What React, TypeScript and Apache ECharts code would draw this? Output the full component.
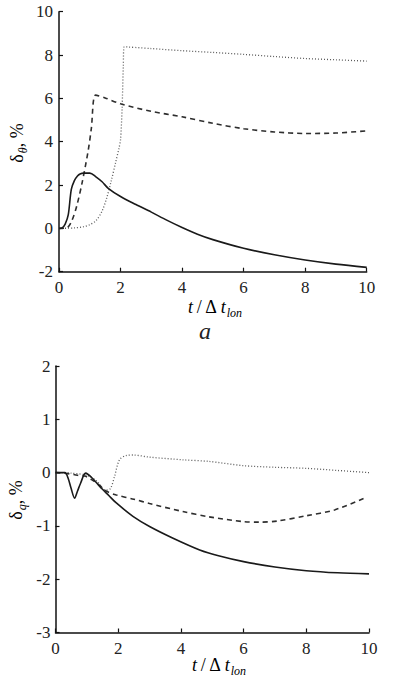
import React, { useEffect, useRef } from "react";
import * as echarts from "echarts";

// ---- data: chart a (delta theta, %) ----
const xTicks = [0, 2, 4, 6, 8, 10];
const topYTicks = [-2, 0, 2, 4, 6, 8, 10];
const bottomYTicks = [-3, -2, -1, 0, 1, 2];

const topSolid: [number, number][] = [
  [0, 0], [0.1, 0.02], [0.2, 0.2], [0.3, 0.62], [0.4, 1.8], [0.5, 2.2], [0.6, 2.42],
  [0.7, 2.52], [0.8, 2.55], [1.0, 2.55], [1.2, 2.38], [1.4, 2.15], [1.6, 1.85],
  [2.0, 1.47], [2.5, 1.1], [3.0, 0.75], [3.5, 0.38], [4.0, 0.04], [4.5, -0.27],
  [5.0, -0.52], [6.0, -0.92], [7.0, -1.22], [8.0, -1.46], [9.0, -1.65], [10.0, -1.8],
];
const topDashed: [number, number][] = [
  [0, 0], [0.25, 0.02], [0.4, 0.3], [0.57, 1.0], [0.75, 2.1], [0.95, 3.6], [1.05, 4.6],
  [1.19, 6.15], [1.5, 6.02], [2.0, 5.75], [3.0, 5.4], [4.0, 5.15], [5.0, 4.85],
  [6.0, 4.6], [7.0, 4.45], [8.0, 4.38], [9.0, 4.4], [10.0, 4.5],
];
const topDotted: [number, number][] = [
  [0, 0], [0.5, 0.02], [0.8, 0.08], [1.0, 0.17], [1.2, 0.35], [1.4, 0.8], [1.55, 1.4],
  [1.7, 2.2], [1.85, 3.1], [1.95, 3.7], [2.0, 4.1], [2.05, 5.5], [2.09, 7.5],
  [2.12, 8.38], [3.0, 8.3], [4.0, 8.2], [5.0, 8.12], [6.0, 8.03], [7.0, 7.93],
  [8.0, 7.84], [9.0, 7.78], [10.0, 7.72],
];

// ---- data: chart b (delta q, %) ----
const bottomSolid: [number, number][] = [
  [0, 0], [0.3, 0], [0.4, -0.1], [0.5, -0.3], [0.61, -0.48], [0.7, -0.35], [0.8, -0.2],
  [0.96, -0.01], [1.2, -0.12], [1.41, -0.26], [1.7, -0.43], [1.94, -0.57], [2.47, -0.82],
  [3.0, -1.01], [3.75, -1.23], [4.6, -1.45], [5.2, -1.56], [6.0, -1.67], [7.0, -1.77],
  [8.0, -1.84], [9.0, -1.88], [10.0, -1.9],
];
const bottomDashed: [number, number][] = [
  [0, 0], [0.4, -0.02], [0.7, -0.05], [0.96, -0.07], [1.2, -0.15], [1.41, -0.24],
  [1.63, -0.35], [1.94, -0.42], [2.5, -0.5], [3.0, -0.58], [4.06, -0.73], [4.9, -0.83],
  [6.0, -0.92], [6.5, -0.93], [7.06, -0.91], [8.0, -0.81], [8.9, -0.7], [9.85, -0.48],
];
const bottomDotted: [number, number][] = [
  [0, 0], [0.5, -0.01], [1.0, -0.05], [1.3, -0.15], [1.6, -0.33], [1.75, -0.3],
  [1.88, -0.08], [2.04, 0.24], [2.25, 0.32], [2.47, 0.33], [3.0, 0.29], [4.06, 0.24],
  [4.9, 0.21], [6.0, 0.13], [7.0, 0.1], [8.0, 0.08], [9.0, 0.04], [10.0, 0.0],
];

const FONT = "Liberation Serif";

function axisCommon(min: number, max: number, interval: number, margin: number) {
  return {
    min,
    max,
    interval,
    axisLine: { show: true, onZero: false, lineStyle: { color: "#111", width: 1.5 } },
    axisTick: { show: true, inside: true, length: 4, lineStyle: { color: "#111", width: 1.2 } },
    axisLabel: { fontFamily: FONT, fontSize: 17, color: "#222", margin },
    splitLine: { show: false },
  };
}

function lineSeries(data: [number, number][], idx: number, kind: "solid" | "dashed" | "dotted") {
  const style =
    kind === "solid"
      ? { color: "#1a1a1a", width: 1.6, type: "solid" as any }
      : kind === "dashed"
      ? { color: "#2e2e2e", width: 1.6, type: [5, 4] as any }
      : { color: "#5a5a5a", width: 1.3, type: [1, 2] as any };
  return {
    type: "line",
    xAxisIndex: idx,
    yAxisIndex: idx,
    data,
    showSymbol: false,
    smooth: 0.3,
    lineStyle: style,
    silent: true,
  };
}

const subRich = {
  it: { fontFamily: FONT, fontStyle: "italic", fontSize: 18, lineHeight: 20, color: "#222" },
  n: { fontFamily: FONT, fontSize: 18, lineHeight: 20, color: "#222" },
  sub: {
    fontFamily: FONT,
    fontStyle: "italic",
    fontSize: 12,
    lineHeight: 12,
    padding: [12, 0, 0, 1],
    color: "#222",
  },
};

export default function App() {
  const ref = useRef<HTMLDivElement>(null);
  useEffect(() => {
    if (!ref.current) return;
    const chart = echarts.init(ref.current, undefined, { renderer: "svg" });
    chart.setOption({
      animation: false,
      backgroundColor: "#fff",
      textStyle: { fontFamily: FONT },
      grid: [
        { left: 59, top: 11.7, width: 307.7, height: 260 },
        { left: 55.5, top: 366, width: 313.5, height: 266.5 },
      ],
      xAxis: [
        { type: "value", gridIndex: 0, ...axisCommon(xTicks[0], xTicks[xTicks.length - 1], 2, 7) },
        { type: "value", gridIndex: 1, ...axisCommon(xTicks[0], xTicks[xTicks.length - 1], 2, 7) },
      ],
      yAxis: [
        { type: "value", gridIndex: 0, ...axisCommon(topYTicks[0], topYTicks[topYTicks.length - 1], 2, 6) },
        { type: "value", gridIndex: 1, ...axisCommon(bottomYTicks[0], bottomYTicks[bottomYTicks.length - 1], 1, 5) },
      ],
      series: [
        lineSeries(topDotted, 0, "dotted"),
        lineSeries(topDashed, 0, "dashed"),
        lineSeries(topSolid, 0, "solid"),
        lineSeries(bottomDotted, 1, "dotted"),
        lineSeries(bottomDashed, 1, "dashed"),
        lineSeries(bottomSolid, 1, "solid"),
      ],
      graphic: [
        {
          type: "text",
          x: 215,
          y: 307,
          style: {
            text: "{it|t} {n|/ Δ} {it|t}{sub|lon}",
            rich: subRich,
            align: "center",
            verticalAlign: "middle",
          },
        },
        {
          type: "text",
          x: 219,
          y: 665,
          style: {
            text: "{it|t} {n|/ Δ} {it|t}{sub|lon}",
            rich: subRich,
            align: "center",
            verticalAlign: "middle",
          },
        },
        {
          type: "text",
          x: 205,
          y: 331,
          style: {
            text: "a",
            font: "italic 24px Liberation Serif",
            fill: "#222",
            align: "center",
            verticalAlign: "middle",
          },
        },
        {
          type: "text",
          x: 17,
          y: 143,
          rotation: Math.PI / 2,
          style: {
            text: "{n|δ}{sub|θ}{n|, %}",
            rich: subRich,
            align: "center",
            verticalAlign: "middle",
          },
        },
        {
          type: "text",
          x: 16,
          y: 500,
          rotation: Math.PI / 2,
          style: {
            text: "{n|δ}{sub|q}{n|, %}",
            rich: subRich,
            align: "center",
            verticalAlign: "middle",
          },
        },
      ],
    });
    return () => chart.dispose();
  }, []);
  return (
    <div
      ref={ref}
      style={{ position: "absolute", left: 0, top: 0, width: 410, height: 682, background: "#fff" }}
    />
  );
}
